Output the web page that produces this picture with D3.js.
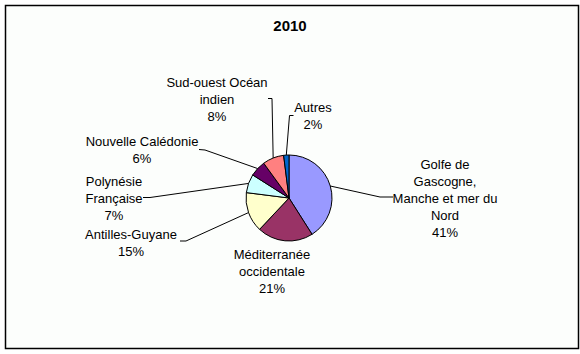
<!DOCTYPE html>
<html>
<head>
<meta charset="utf-8">
<script src="https://cdn.jsdelivr.net/npm/d3@7"></script>
<style>
  html,body{margin:0;padding:0;background:#fff;}
  svg{display:block;font-family:Arial,"Liberation Sans",sans-serif;}
</style>
</head>
<body>
<div id="chart"></div>
<script>
// data
const regions = ['Golfe de Gascogne, Manche et mer du Nord','Méditerranée occidentale','Antilles-Guyane','Polynésie Française','Nouvelle Calédonie','Sud-ouest Océan indien','Autres'];
const shares = [41,21,15,7,6,8,2];
const sliceColors = ['#9999ff','#993366','#ffffcc','#ccffff','#660066','#ff8080','#0066cc'];
// label text lines (as drawn in the picture)
const labelLines = [
  ['Golfe de','Gascogne,','Manche et mer du','Nord'],
  ['Méditerranée','occidentale'],
  ['Antilles-Guyane'],
  ['Polynésie','Française'],
  ['Nouvelle Calédonie'],
  ['Sud-ouest Océan','indien'],
  ['Autres']
];

// layout: label centre x, first line centre y, leader elbow + end (null = no leader)
const labelLayout = [
  {x:445, y:164, elbow:[380,197], end:[393,197]},
  {x:272, y:254, elbow:null},
  {x:131, y:234, elbow:[186,241], end:[180,241]},
  {x:114, y:181.5, elbow:[150,197.5], end:[143,197.5]},
  {x:142, y:141, elbow:[205,150], end:[199,149.5]},
  {x:217, y:82, elbow:[272,98.5], end:[268,98.5]},
  {x:313, y:107, elbow:[289.5,115.5], end:[293.5,115.5]}
];

const W=580, H=354;
const cx=289, cy=198, R=43, lineH=17;

const svg=d3.select('#chart').append('svg').attr('width',W).attr('height',H);

svg.append('rect').attr('x',5.5).attr('y',5.5).attr('width',573).attr('height',343)
  .attr('fill','#fcfefc').attr('stroke','#000').attr('stroke-width',1.5);

svg.append('text').attr('x',290).attr('y',31).attr('text-anchor','middle')
  .attr('font-size',15).attr('font-weight','bold').text('2010');

const pie=d3.pie().sort(null).value(d=>d.v);
const arcs=pie(shares.map((v,i)=>({v,i})));
const arc=d3.arc().innerRadius(0).outerRadius(R);

const g=svg.append('g').attr('transform',`translate(${cx},${cy})`);
g.selectAll('path').data(arcs).join('path')
  .attr('d',arc)
  .attr('fill',d=>sliceColors[d.data.i])
  .attr('stroke','#000').attr('stroke-width',1);

// leader lines start at the slice's outer edge, at mid angle
const edge=d=>{const a=(d.startAngle+d.endAngle)/2; return [cx+R*Math.sin(a), cy-R*Math.cos(a)];};
svg.append('g').selectAll('polyline').data(arcs.filter(d=>labelLayout[d.data.i].elbow)).join('polyline')
  .attr('points',d=>{const L=labelLayout[d.data.i]; return [edge(d),L.elbow,L.end].map(p=>p.join(',')).join(' ');})
  .attr('fill','none').attr('stroke','#000').attr('stroke-width',1);

const labels=svg.append('g').attr('font-size',13).attr('fill','#000').attr('text-anchor','middle');
arcs.forEach(d=>{
  const L=labelLayout[d.data.i];
  const lines=labelLines[d.data.i].concat([d.data.v+'%']);
  const t=labels.append('text');
  lines.forEach((s,k)=>t.append('tspan').attr('x',L.x).attr('y',L.y+k*lineH+4.6).text(s));
});
</script>
</body>
</html>
